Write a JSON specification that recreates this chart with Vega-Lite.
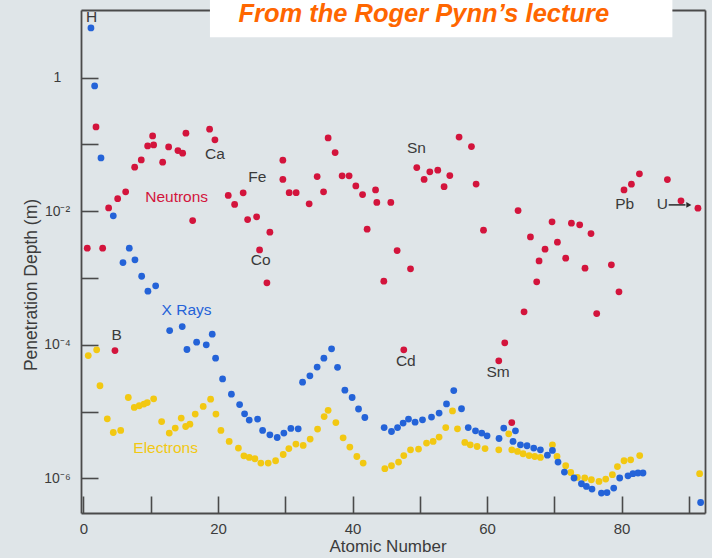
{
  "$schema": "https://vega.github.io/schema/vega-lite/v6.json",
  "width": 624,
  "height": 503,
  "autosize": {"type": "none"},
  "padding": {"left": 81, "top": 10, "right": 7, "bottom": 45},
  "config": {
    "background": "#dfe5e8",
    "view": {"stroke": null},
    "font": "Liberation Sans"
  },
  "datasets": {
    "depths": [
      {"series": "Electrons", "Z": 0.71, "depth": 6.89e-5},
      {"series": "Electrons", "Z": 1.96, "depth": 8.39e-5},
      {"series": "Electrons", "Z": 2.45, "depth": 2.43e-5},
      {"series": "Electrons", "Z": 3.54, "depth": 7.78e-6},
      {"series": "Electrons", "Z": 4.43, "depth": 4.85e-6},
      {"series": "Electrons", "Z": 5.53, "depth": 5.2e-6},
      {"series": "Electrons", "Z": 6.66, "depth": 1.62e-5},
      {"series": "Electrons", "Z": 7.55, "depth": 1.15e-5},
      {"series": "Electrons", "Z": 8.29, "depth": 1.22e-5},
      {"series": "Electrons", "Z": 8.99, "depth": 1.29e-5},
      {"series": "Electrons", "Z": 9.48, "depth": 1.36e-5},
      {"series": "Electrons", "Z": 10.43, "depth": 1.55e-5},
      {"series": "Electrons", "Z": 11.62, "depth": 7.08e-6},
      {"series": "Electrons", "Z": 12.75, "depth": 4.75e-6},
      {"series": "Electrons", "Z": 13.64, "depth": 5.64e-6},
      {"series": "Electrons", "Z": 14.53, "depth": 7.96e-6},
      {"series": "Electrons", "Z": 15.19, "depth": 5.96e-6},
      {"series": "Electrons", "Z": 15.82, "depth": 6.47e-6},
      {"series": "Electrons", "Z": 16.61, "depth": 9.14e-6},
      {"series": "Electrons", "Z": 17.8, "depth": 1.19e-5},
      {"series": "Electrons", "Z": 18.9, "depth": 1.53e-5},
      {"series": "Electrons", "Z": 19.69, "depth": 9.14e-6},
      {"series": "Electrons", "Z": 20.43, "depth": 5.2e-6},
      {"series": "Electrons", "Z": 21.66, "depth": 3.56e-6},
      {"series": "Electrons", "Z": 23.03, "depth": 2.83e-6},
      {"series": "Electrons", "Z": 23.85, "depth": 2.17e-6},
      {"series": "Electrons", "Z": 24.64, "depth": 2.05e-6},
      {"series": "Electrons", "Z": 25.48, "depth": 1.96e-6},
      {"series": "Electrons", "Z": 26.37, "depth": 1.69e-6},
      {"series": "Electrons", "Z": 27.46, "depth": 1.69e-6},
      {"series": "Electrons", "Z": 28.56, "depth": 1.83e-6},
      {"series": "Electrons", "Z": 29.69, "depth": 2.27e-6},
      {"series": "Electrons", "Z": 30.53, "depth": 2.79e-6},
      {"series": "Electrons", "Z": 31.58, "depth": 3.25e-6},
      {"series": "Electrons", "Z": 32.66, "depth": 3.1e-6},
      {"series": "Electrons", "Z": 33.7, "depth": 3.86e-6},
      {"series": "Electrons", "Z": 34.8, "depth": 5.45e-6},
      {"series": "Electrons", "Z": 35.78, "depth": 8.41e-6},
      {"series": "Electrons", "Z": 36.37, "depth": 1.04e-5},
      {"series": "Electrons", "Z": 37.52, "depth": 6.84e-6},
      {"series": "Electrons", "Z": 38.6, "depth": 4.04e-6},
      {"series": "Electrons", "Z": 39.6, "depth": 2.93e-6},
      {"series": "Electrons", "Z": 40.64, "depth": 2.12e-6},
      {"series": "Electrons", "Z": 41.58, "depth": 1.69e-6},
      {"series": "Electrons", "Z": 44.8, "depth": 1.39e-6},
      {"series": "Electrons", "Z": 45.79, "depth": 1.54e-6},
      {"series": "Electrons", "Z": 46.84, "depth": 1.75e-6},
      {"series": "Electrons", "Z": 47.62, "depth": 2.19e-6},
      {"series": "Electrons", "Z": 48.62, "depth": 2.67e-6},
      {"series": "Electrons", "Z": 49.81, "depth": 2.74e-6},
      {"series": "Electrons", "Z": 51.0, "depth": 3.37e-6},
      {"series": "Electrons", "Z": 51.98, "depth": 3.56e-6},
      {"series": "Electrons", "Z": 52.87, "depth": 4.14e-6},
      {"series": "Electrons", "Z": 53.86, "depth": 5.75e-6},
      {"series": "Electrons", "Z": 54.86, "depth": 1.02e-5},
      {"series": "Electrons", "Z": 55.6, "depth": 5.51e-6},
      {"series": "Electrons", "Z": 56.69, "depth": 3.44e-6},
      {"series": "Electrons", "Z": 57.5, "depth": 3.17e-6},
      {"series": "Electrons", "Z": 58.52, "depth": 2.99e-6},
      {"series": "Electrons", "Z": 59.7, "depth": 2.79e-6},
      {"series": "Electrons", "Z": 61.74, "depth": 2.67e-6},
      {"series": "Electrons", "Z": 63.22, "depth": 4.63e-6},
      {"series": "Electrons", "Z": 63.67, "depth": 2.67e-6},
      {"series": "Electrons", "Z": 64.52, "depth": 2.52e-6},
      {"series": "Electrons", "Z": 65.35, "depth": 2.33e-6},
      {"series": "Electrons", "Z": 66.24, "depth": 2.19e-6},
      {"series": "Electrons", "Z": 67.09, "depth": 2.12e-6},
      {"series": "Electrons", "Z": 67.93, "depth": 2.05e-6},
      {"series": "Electrons", "Z": 69.72, "depth": 3.17e-6},
      {"series": "Electrons", "Z": 70.4, "depth": 2.12e-6},
      {"series": "Electrons", "Z": 71.69, "depth": 1.54e-6},
      {"series": "Electrons", "Z": 72.44, "depth": 1.22e-6},
      {"series": "Electrons", "Z": 73.43, "depth": 1.03e-6},
      {"series": "Electrons", "Z": 74.52, "depth": 1.01e-6},
      {"series": "Electrons", "Z": 75.51, "depth": 9.5e-7},
      {"series": "Electrons", "Z": 76.64, "depth": 8.96e-7},
      {"series": "Electrons", "Z": 77.64, "depth": 9.72e-7},
      {"series": "Electrons", "Z": 78.63, "depth": 1.13e-6},
      {"series": "Electrons", "Z": 79.38, "depth": 1.5e-6},
      {"series": "Electrons", "Z": 80.36, "depth": 1.83e-6},
      {"series": "Electrons", "Z": 81.35, "depth": 1.89e-6},
      {"series": "Electrons", "Z": 82.69, "depth": 2.19e-6},
      {"series": "Electrons", "Z": 91.6, "depth": 1.17e-6},

      {"series": "X Rays", "Z": 1.11, "depth": 5.55},
      {"series": "X Rays", "Z": 1.66, "depth": 0.751},
      {"series": "X Rays", "Z": 2.6, "depth": 0.0628},
      {"series": "X Rays", "Z": 4.43, "depth": 8.51e-3},
      {"series": "X Rays", "Z": 5.87, "depth": 1.7e-3},
      {"series": "X Rays", "Z": 6.81, "depth": 2.79e-3},
      {"series": "X Rays", "Z": 7.65, "depth": 1.87e-3},
      {"series": "X Rays", "Z": 8.65, "depth": 1.06e-3},
      {"series": "X Rays", "Z": 9.58, "depth": 6.34e-4},
      {"series": "X Rays", "Z": 10.73, "depth": 7.62e-4},
      {"series": "X Rays", "Z": 12.81, "depth": 1.63e-4},
      {"series": "X Rays", "Z": 14.68, "depth": 1.87e-4},
      {"series": "X Rays", "Z": 15.38, "depth": 8.48e-5},
      {"series": "X Rays", "Z": 16.82, "depth": 1.09e-4},
      {"series": "X Rays", "Z": 18.25, "depth": 9.97e-5},
      {"series": "X Rays", "Z": 19.14, "depth": 1.44e-4},
      {"series": "X Rays", "Z": 19.64, "depth": 6.3e-5},
      {"series": "X Rays", "Z": 20.68, "depth": 3.07e-5},
      {"series": "X Rays", "Z": 21.99, "depth": 1.82e-5},
      {"series": "X Rays", "Z": 23.21, "depth": 1.27e-5},
      {"series": "X Rays", "Z": 23.95, "depth": 9.24e-6},
      {"series": "X Rays", "Z": 24.64, "depth": 7.43e-6},
      {"series": "X Rays", "Z": 25.88, "depth": 7.69e-6},
      {"series": "X Rays", "Z": 26.63, "depth": 5.2e-6},
      {"series": "X Rays", "Z": 27.71, "depth": 4.48e-6},
      {"series": "X Rays", "Z": 28.8, "depth": 4.08e-6},
      {"series": "X Rays", "Z": 29.79, "depth": 4.75e-6},
      {"series": "X Rays", "Z": 30.83, "depth": 5.57e-6},
      {"series": "X Rays", "Z": 31.92, "depth": 5.51e-6},
      {"series": "X Rays", "Z": 32.57, "depth": 2.75e-5},
      {"series": "X Rays", "Z": 33.66, "depth": 3.42e-5},
      {"series": "X Rays", "Z": 34.74, "depth": 4.62e-5},
      {"series": "X Rays", "Z": 35.74, "depth": 6.3e-5},
      {"series": "X Rays", "Z": 36.88, "depth": 8.69e-5},
      {"series": "X Rays", "Z": 37.77, "depth": 4.59e-5},
      {"series": "X Rays", "Z": 38.86, "depth": 2.09e-5},
      {"series": "X Rays", "Z": 39.94, "depth": 1.62e-5},
      {"series": "X Rays", "Z": 40.89, "depth": 1.09e-5},
      {"series": "X Rays", "Z": 41.83, "depth": 8.13e-6},
      {"series": "X Rays", "Z": 44.7, "depth": 5.75e-6},
      {"series": "X Rays", "Z": 45.79, "depth": 5.02e-6},
      {"series": "X Rays", "Z": 46.69, "depth": 5.75e-6},
      {"series": "X Rays", "Z": 47.52, "depth": 6.7e-6},
      {"series": "X Rays", "Z": 48.32, "depth": 7.69e-6},
      {"series": "X Rays", "Z": 49.3, "depth": 6.93e-6},
      {"series": "X Rays", "Z": 50.4, "depth": 7.52e-6},
      {"series": "X Rays", "Z": 51.74, "depth": 8.24e-6},
      {"series": "X Rays", "Z": 52.87, "depth": 9.46e-6},
      {"series": "X Rays", "Z": 53.97, "depth": 1.3e-5},
      {"series": "X Rays", "Z": 55.05, "depth": 2.06e-5},
      {"series": "X Rays", "Z": 56.2, "depth": 1.1e-5},
      {"series": "X Rays", "Z": 57.2, "depth": 5.75e-6},
      {"series": "X Rays", "Z": 58.28, "depth": 5.14e-6},
      {"series": "X Rays", "Z": 59.21, "depth": 4.75e-6},
      {"series": "X Rays", "Z": 60.0, "depth": 4.33e-6},
      {"series": "X Rays", "Z": 61.78, "depth": 3.94e-6},
      {"series": "X Rays", "Z": 62.48, "depth": 5.64e-6},
      {"series": "X Rays", "Z": 63.86, "depth": 3.56e-6},
      {"series": "X Rays", "Z": 64.22, "depth": 5.14e-6},
      {"series": "X Rays", "Z": 64.96, "depth": 3.17e-6},
      {"series": "X Rays", "Z": 65.94, "depth": 3.07e-6},
      {"series": "X Rays", "Z": 66.94, "depth": 2.83e-6},
      {"series": "X Rays", "Z": 67.93, "depth": 2.67e-6},
      {"series": "X Rays", "Z": 68.97, "depth": 2.22e-6},
      {"series": "X Rays", "Z": 69.72, "depth": 2.61e-6},
      {"series": "X Rays", "Z": 70.55, "depth": 1.75e-6},
      {"series": "X Rays", "Z": 71.5, "depth": 1.24e-6},
      {"series": "X Rays", "Z": 72.93, "depth": 1.01e-6},
      {"series": "X Rays", "Z": 74.03, "depth": 8.28e-7},
      {"series": "X Rays", "Z": 74.77, "depth": 7.54e-7},
      {"series": "X Rays", "Z": 75.6, "depth": 6.89e-7},
      {"series": "X Rays", "Z": 77.0, "depth": 6.0e-7},
      {"series": "X Rays", "Z": 77.83, "depth": 6.12e-7},
      {"series": "X Rays", "Z": 78.83, "depth": 7.13e-7},
      {"series": "X Rays", "Z": 79.72, "depth": 1.01e-6},
      {"series": "X Rays", "Z": 80.95, "depth": 1.09e-6},
      {"series": "X Rays", "Z": 81.69, "depth": 1.17e-6},
      {"series": "X Rays", "Z": 82.44, "depth": 1.2e-6},
      {"series": "X Rays", "Z": 83.18, "depth": 1.2e-6},
      {"series": "X Rays", "Z": 91.75, "depth": 4.34e-7},

      {"series": "Neutrons", "Z": 0.56, "depth": 2.79e-3},
      {"series": "Neutrons", "Z": 1.86, "depth": 0.183},
      {"series": "Neutrons", "Z": 2.85, "depth": 2.79e-3},
      {"series": "Neutrons", "Z": 3.74, "depth": 0.0112},
      {"series": "Neutrons", "Z": 4.68, "depth": 8.19e-5},
      {"series": "Neutrons", "Z": 5.08, "depth": 0.0154},
      {"series": "Neutrons", "Z": 6.27, "depth": 0.0195},
      {"series": "Neutrons", "Z": 7.61, "depth": 0.0456},
      {"series": "Neutrons", "Z": 8.59, "depth": 0.0586},
      {"series": "Neutrons", "Z": 9.54, "depth": 0.095},
      {"series": "Neutrons", "Z": 10.28, "depth": 0.134},
      {"series": "Neutrons", "Z": 10.43, "depth": 0.0983},
      {"series": "Neutrons", "Z": 11.77, "depth": 0.0542},
      {"series": "Neutrons", "Z": 12.66, "depth": 0.0918},
      {"series": "Neutrons", "Z": 14.04, "depth": 0.0807},
      {"series": "Neutrons", "Z": 14.74, "depth": 0.0738},
      {"series": "Neutrons", "Z": 15.23, "depth": 0.147},
      {"series": "Neutrons", "Z": 16.23, "depth": 7.23e-3},
      {"series": "Neutrons", "Z": 18.75, "depth": 0.169},
      {"series": "Neutrons", "Z": 19.54, "depth": 0.117},
      {"series": "Neutrons", "Z": 21.52, "depth": 0.0172},
      {"series": "Neutrons", "Z": 22.47, "depth": 0.0126},
      {"series": "Neutrons", "Z": 23.74, "depth": 0.0188},
      {"series": "Neutrons", "Z": 24.4, "depth": 7.48e-3},
      {"series": "Neutrons", "Z": 25.74, "depth": 8.22e-3},
      {"series": "Neutrons", "Z": 26.18, "depth": 2.63e-3},
      {"series": "Neutrons", "Z": 27.27, "depth": 8.45e-4},
      {"series": "Neutrons", "Z": 27.71, "depth": 4.85e-3},
      {"series": "Neutrons", "Z": 29.64, "depth": 0.058},
      {"series": "Neutrons", "Z": 29.64, "depth": 0.0299},
      {"series": "Neutrons", "Z": 30.58, "depth": 0.0189},
      {"series": "Neutrons", "Z": 31.62, "depth": 0.0189},
      {"series": "Neutrons", "Z": 33.55, "depth": 0.0129},
      {"series": "Neutrons", "Z": 34.74, "depth": 0.033},
      {"series": "Neutrons", "Z": 35.69, "depth": 0.0195},
      {"series": "Neutrons", "Z": 36.37, "depth": 0.125},
      {"series": "Neutrons", "Z": 37.41, "depth": 0.0754},
      {"series": "Neutrons", "Z": 38.45, "depth": 0.0338},
      {"series": "Neutrons", "Z": 39.49, "depth": 0.0338},
      {"series": "Neutrons", "Z": 40.49, "depth": 0.0239},
      {"series": "Neutrons", "Z": 41.49, "depth": 0.0177},
      {"series": "Neutrons", "Z": 42.17, "depth": 5.38e-3},
      {"series": "Neutrons", "Z": 43.42, "depth": 0.0208},
      {"series": "Neutrons", "Z": 43.61, "depth": 0.0135},
      {"series": "Neutrons", "Z": 44.65, "depth": 8.95e-4},
      {"series": "Neutrons", "Z": 45.69, "depth": 0.0135},
      {"series": "Neutrons", "Z": 46.63, "depth": 2.57e-3},
      {"series": "Neutrons", "Z": 47.62, "depth": 8.39e-5},
      {"series": "Neutrons", "Z": 48.62, "depth": 1.37e-3},
      {"series": "Neutrons", "Z": 49.55, "depth": 0.045},
      {"series": "Neutrons", "Z": 50.64, "depth": 0.0299},
      {"series": "Neutrons", "Z": 51.49, "depth": 0.0388},
      {"series": "Neutrons", "Z": 52.67, "depth": 0.0411},
      {"series": "Neutrons", "Z": 53.61, "depth": 0.0233},
      {"series": "Neutrons", "Z": 54.46, "depth": 0.0341},
      {"series": "Neutrons", "Z": 55.84, "depth": 0.129},
      {"series": "Neutrons", "Z": 57.68, "depth": 0.0927},
      {"series": "Neutrons", "Z": 58.37, "depth": 0.0255},
      {"series": "Neutrons", "Z": 59.47, "depth": 5.2e-3},
      {"series": "Neutrons", "Z": 61.74, "depth": 5.74e-5},
      {"series": "Neutrons", "Z": 62.63, "depth": 1.07e-4},
      {"series": "Neutrons", "Z": 63.67, "depth": 6.84e-6},
      {"series": "Neutrons", "Z": 64.61, "depth": 0.0102},
      {"series": "Neutrons", "Z": 65.5, "depth": 3.11e-4},
      {"series": "Neutrons", "Z": 66.45, "depth": 4.12e-3},
      {"series": "Neutrons", "Z": 67.38, "depth": 8.75e-4},
      {"series": "Neutrons", "Z": 67.73, "depth": 1.8e-3},
      {"series": "Neutrons", "Z": 68.62, "depth": 2.7e-3},
      {"series": "Neutrons", "Z": 69.66, "depth": 6.92e-3},
      {"series": "Neutrons", "Z": 70.46, "depth": 3.44e-3},
      {"series": "Neutrons", "Z": 71.69, "depth": 1.98e-3},
      {"series": "Neutrons", "Z": 72.54, "depth": 6.61e-3},
      {"series": "Neutrons", "Z": 73.77, "depth": 6.24e-3},
      {"series": "Neutrons", "Z": 74.56, "depth": 1.4e-3},
      {"series": "Neutrons", "Z": 75.45, "depth": 4.62e-3},
      {"series": "Neutrons", "Z": 76.3, "depth": 2.93e-4},
      {"series": "Neutrons", "Z": 78.48, "depth": 1.57e-3},
      {"series": "Neutrons", "Z": 79.61, "depth": 6.19e-4},
      {"series": "Neutrons", "Z": 80.36, "depth": 0.0208},
      {"series": "Neutrons", "Z": 81.46, "depth": 0.0254},
      {"series": "Neutrons", "Z": 82.65, "depth": 0.0362},
      {"series": "Neutrons", "Z": 86.81, "depth": 0.0297},
      {"series": "Neutrons", "Z": 88.83, "depth": 0.0143},
      {"series": "Neutrons", "Z": 91.35, "depth": 0.0111}
    ],
    "elements": [
      {"name": "H", "Z": 1.22, "depth": 8.19},
      {"name": "B", "Z": 4.93, "depth": 1.406e-4},
      {"name": "Ca", "Z": 19.54, "depth": 0.0721},
      {"name": "Fe", "Z": 25.83, "depth": 0.033},
      {"name": "Co", "Z": 26.33, "depth": 1.866e-3},
      {"name": "Cd", "Z": 47.92, "depth": 5.8e-5},
      {"name": "Sn", "Z": 49.51, "depth": 0.0877},
      {"name": "Sm", "Z": 61.63, "depth": 3.97e-5},
      {"name": "Pb", "Z": 80.46, "depth": 0.01286},
      {"name": "U", "Z": 86.06, "depth": 0.01286}
    ],
    "seriesNames": [
      {"series": "Neutrons", "Z": 13.85, "depth": 0.01621},
      {"series": "X Rays", "Z": 15.33, "depth": 3.33e-4},
      {"series": "Electrons", "Z": 12.21, "depth": 2.89e-6}
    ],
    "arrow": [
      {"Z": 87.0, "Z2": 89.5, "depth": 0.01242}
    ],
    "arrowHead": [
      {"Z": 90.0, "depth": 0.01242}
    ],
    "noteBox": [
      {"Z": 18.8, "Z2": 87.55, "depth": 14.56, "depth2": 4.03}
    ],
    "note": [
      {"text": "From the Roger Pynn’s lecture", "Z": 50.59, "depth": 6.75}
    ]
  },
  "resolve": {"axis": {"x": "independent", "y": "independent"}},
  "layer": [
    {
      "data": {"name": "depths"},
      "mark": {"type": "point", "filled": true, "size": 46, "opacity": 1},
      "encoding": {
        "x": {
          "field": "Z", "type": "quantitative",
          "scale": {"domain": [-0.37, 92.4], "nice": false, "zero": false},
          "axis": {
            "orient": "bottom",
            "values": [0, 10, 20, 30, 40, 50, 60, 70, 80, 90],
            "labelExpr": "datum.value % 20 == 0 ? datum.label : ''",
            "grid": false,
            "tickSize": -17,
            "labelPadding": 25,
            "labelFlush": false,
            "labelOverlap": false,
            "labelBound": false,
            "domainColor": "#4a4a4a",
            "domainWidth": 1.8,
            "tickColor": "#4a4a4a",
            "tickWidth": 1.6,
            "labelFont": "Liberation Sans",
            "labelFontSize": 15,
            "labelColor": "#3c3c3c",
            "title": "Atomic Number",
            "titleFont": "Liberation Sans",
            "titleFontSize": 17,
            "titleFontWeight": "normal",
            "titleColor": "#3c3c3c",
            "titleX": 306.5,
            "titleY": 33.7,
            "titleAlign": "center",
            "titleBaseline": "middle",
            "encode": {"ticks": {"update": {"y2": {"signal": "datum.value % 20 == 0 ? -17 : -13"}}}}
          }
        },
        "y": {
          "field": "depth", "type": "quantitative",
          "scale": {"type": "log", "domain": [3.02e-7, 10.3], "nice": false},
          "axis": {
            "orient": "left",
            "values": [1e-6, 1e-5, 1e-4, 1e-3, 0.01, 0.1, 1],
            "labelExpr": "round(log(datum.value)/LN10) == 0 ? '1' : round(log(datum.value)/LN10) == -2 ? '10⁻²' : round(log(datum.value)/LN10) == -4 ? '10⁻⁴' : round(log(datum.value)/LN10) == -6 ? '10⁻⁶' : ''",
            "grid": false,
            "tickSize": -17,
            "labelPadding": 41,
            "labelAlign": "center",
            "labelBaseline": "middle",
            "labelFlush": false,
            "labelOverlap": false,
            "labelBound": false,
            "domainColor": "#4a4a4a",
            "domainWidth": 1.8,
            "tickColor": "#4a4a4a",
            "tickWidth": 1.6,
            "labelFont": "Liberation Sans",
            "labelFontSize": 14,
            "labelColor": "#3c3c3c",
            "title": "Penetration Depth (m)",
            "titleFont": "Liberation Sans",
            "titleFontSize": 17.5,
            "titleFontWeight": "normal",
            "titleColor": "#3c3c3c",
            "titleAngle": 270,
            "titleX": -50,
            "titleY": 274.5,
            "titleAlign": "center",
            "titleBaseline": "middle",
            "encode": {"ticks": {"update": {"x2": {"signal": "abs(round(log(datum.value)/LN10)) % 2 == 0 ? 17 : 13"}}}}
          }
        },
        "color": {
          "field": "series", "type": "nominal",
          "scale": {"domain": ["Neutrons", "X Rays", "Electrons"], "range": ["#d3143c", "#2463d8", "#f2c812"]},
          "legend": null
        }
      }
    },
    {
      "data": {"name": "elements"},
      "mark": {"type": "text", "font": "Liberation Sans", "fontSize": 15.5, "color": "#3a3a3a", "align": "center", "baseline": "middle"},
      "encoding": {
        "x": {"field": "Z", "type": "quantitative", "scale": {"domain": [-0.37, 92.4], "nice": false, "zero": false}, "axis": null},
        "y": {"field": "depth", "type": "quantitative", "scale": {"type": "log", "domain": [3.02e-7, 10.3], "nice": false}, "axis": null},
        "text": {"field": "name"}
      }
    },
    {
      "data": {"name": "seriesNames"},
      "mark": {"type": "text", "font": "Liberation Sans", "fontSize": 15.5, "align": "center", "baseline": "middle"},
      "encoding": {
        "x": {"field": "Z", "type": "quantitative", "scale": {"domain": [-0.37, 92.4], "nice": false, "zero": false}, "axis": null},
        "y": {"field": "depth", "type": "quantitative", "scale": {"type": "log", "domain": [3.02e-7, 10.3], "nice": false}, "axis": null},
        "text": {"field": "series"},
        "color": {
          "field": "series", "type": "nominal",
          "scale": {"domain": ["Neutrons", "X Rays", "Electrons"], "range": ["#d3143c", "#2463d8", "#f0d040"]},
          "legend": null
        }
      }
    },
    {
      "data": {"name": "arrow"},
      "mark": {"type": "rule", "color": "#2a2a2a", "strokeWidth": 1.5},
      "encoding": {
        "x": {
          "field": "Z", "type": "quantitative",
          "scale": {"domain": [-0.37, 92.4], "nice": false, "zero": false},
          "axis": {"orient": "top", "ticks": false, "labels": false, "grid": false, "title": null, "domainColor": "#4a4a4a", "domainWidth": 1.8}
        },
        "x2": {"field": "Z2"},
        "y": {
          "field": "depth", "type": "quantitative",
          "scale": {"type": "log", "domain": [3.02e-7, 10.3], "nice": false},
          "axis": {"orient": "right", "ticks": false, "labels": false, "grid": false, "title": null, "domainColor": "#4a4a4a", "domainWidth": 1.8}
        }
      }
    },
    {
      "data": {"name": "arrowHead"},
      "mark": {"type": "point", "shape": "triangle-right", "filled": true, "size": 34, "color": "#2a2a2a", "opacity": 1},
      "encoding": {
        "x": {"field": "Z", "type": "quantitative", "scale": {"domain": [-0.37, 92.4], "nice": false, "zero": false}, "axis": null},
        "y": {"field": "depth", "type": "quantitative", "scale": {"type": "log", "domain": [3.02e-7, 10.3], "nice": false}, "axis": null}
      }
    },
    {
      "data": {"name": "noteBox"},
      "mark": {"type": "rect", "color": "#ffffff", "opacity": 1},
      "encoding": {
        "x": {"field": "Z", "type": "quantitative", "scale": {"domain": [-0.37, 92.4], "nice": false, "zero": false}, "axis": null},
        "x2": {"field": "Z2"},
        "y": {"field": "depth", "type": "quantitative", "scale": {"type": "log", "domain": [3.02e-7, 10.3], "nice": false}, "axis": null},
        "y2": {"field": "depth2"}
      }
    },
    {
      "data": {"name": "note"},
      "mark": {"type": "text", "font": "Liberation Sans", "fontSize": 25.5, "fontWeight": "bold", "fontStyle": "italic", "color": "#ff6600", "align": "center", "baseline": "alphabetic"},
      "encoding": {
        "x": {"field": "Z", "type": "quantitative", "scale": {"domain": [-0.37, 92.4], "nice": false, "zero": false}, "axis": null},
        "y": {"field": "depth", "type": "quantitative", "scale": {"type": "log", "domain": [3.02e-7, 10.3], "nice": false}, "axis": null},
        "text": {"field": "text"}
      }
    }
  ]
}
